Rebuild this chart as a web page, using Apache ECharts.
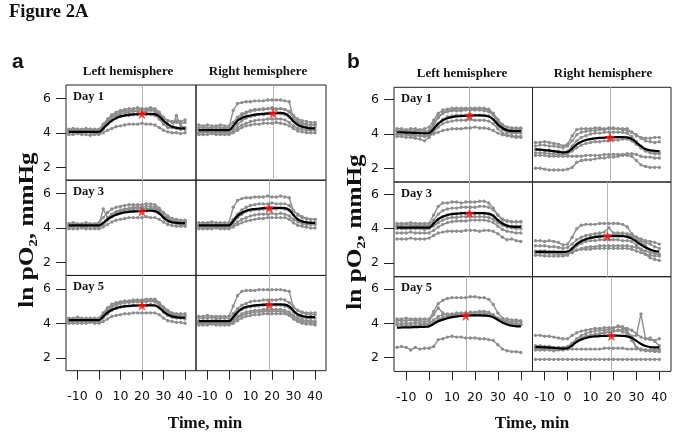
<!DOCTYPE html>
<html><head><meta charset="utf-8">
<script src="https://cdn.jsdelivr.net/npm/echarts@6/dist/echarts.min.js"></script>
<style>html,body{margin:0;padding:0;background:#fff}#c{width:679px;height:440px}</style>
</head><body><div id="c"></div>
<script>
// ---- data ----
const times = [-14,-12,-10,-8,-6,-4,-2,0,2,4,6,8,10,12,14,16,18,20,22,24,26,28,30,32,34,36,38,40];
const xTicks = [-10,0,10,20,30,40];
const yTicks = [2,4,6];
const dayLabels = ['Day 1','Day 3','Day 5'];
const colTitles = ['Left hemisphere','Right hemisphere'];

// panel a, left hemisphere, day 1
const aL1 = [
 [4.2,4.25,4.2,4.2,4.25,4.2,4.2,4.2,4.5,4.8,5.05,5.2,5.3,5.35,5.4,5.4,5.45,5.4,5.4,5.45,5.4,5.2,4.9,4.7,4.6,4.6,4.55,4.6],
 [4.1,4.1,4.15,4.1,4.1,4.1,4.15,4.1,4.3,4.6,4.85,5.0,5.1,5.15,5.2,5.25,5.25,5.2,5.25,5.3,5.25,5.0,4.7,4.45,4.3,4.25,4.2,4.2],
 [4.0,4.05,4.0,4.0,4.05,4.0,3.95,4.0,4.2,4.5,4.7,4.85,4.95,5.0,5.0,5.05,5.05,5.1,5.05,5.05,5.0,4.8,4.5,4.3,4.3,5.0,4.4,4.3],
 [3.9,3.9,3.95,3.9,3.9,3.85,3.9,3.9,4.0,4.15,4.25,4.35,4.4,4.45,4.5,4.5,4.5,4.55,4.5,4.5,4.45,4.3,4.15,4.05,4.0,4.0,3.95,4.0],
 [4.15,4.15,4.2,4.15,4.15,4.2,4.15,4.15,4.4,4.7,4.95,5.1,5.2,5.25,5.3,5.3,5.3,5.35,5.3,5.35,5.3,5.1,4.85,4.7,4.65,4.7,4.65,4.75]
];
const aL1Mean = [4.05,4.05,4.05,4.05,4.05,4.05,4.05,4.05,4.25,4.5,4.7,4.85,4.95,5.0,5.05,5.07,5.08,5.1,5.1,5.1,5.08,4.95,4.7,4.5,4.35,4.3,4.25,4.25];
const aL1Star = [20, 5.1];

const aR1 = [
 [4.3,4.35,4.3,4.3,4.35,4.3,4.3,4.3,5.3,5.7,5.75,5.8,5.8,5.85,5.85,5.85,5.9,5.9,5.9,5.9,5.85,5.8,4.8,4.6,4.5,4.5,4.45,4.5],
 [4.2,4.2,4.25,4.2,4.2,4.2,4.25,4.2,4.4,4.75,5.0,5.15,5.25,5.3,5.35,5.35,5.4,5.4,5.35,5.4,5.35,5.2,4.9,4.7,4.55,4.5,4.45,4.45],
 [4.1,4.1,4.1,4.15,4.1,4.1,4.1,4.1,4.25,4.5,4.7,4.85,4.95,5.0,5.05,5.05,5.1,5.1,5.1,5.1,5.05,4.9,4.7,4.5,4.4,4.35,4.3,4.3],
 [4.0,4.0,4.05,4.0,4.0,4.0,4.0,4.0,4.1,4.3,4.45,4.55,4.65,4.7,4.75,4.75,4.8,4.8,4.8,4.8,4.75,4.6,4.4,4.25,4.2,4.15,4.15,4.15],
 [3.9,3.9,3.9,3.95,3.9,3.9,3.9,3.9,4.0,4.15,4.3,4.4,4.45,4.5,4.5,4.55,4.55,4.55,4.6,4.55,4.5,4.4,4.25,4.1,4.05,4.0,4.0,4.0],
 [4.45,4.4,4.45,4.4,4.4,4.45,4.4,4.4,4.6,4.9,5.1,5.2,5.3,5.35,5.35,5.4,5.4,5.45,5.4,5.4,5.35,5.25,5.0,4.8,4.7,4.65,4.6,4.6]
];
const aR1Mean = [4.15,4.15,4.15,4.15,4.15,4.15,4.15,4.15,4.4,4.7,4.85,4.95,5.0,5.05,5.08,5.1,5.12,5.14,5.15,5.15,5.12,4.95,4.65,4.45,4.35,4.3,4.25,4.25];
const aR1Star = [20.5, 5.15];

const aL3 = [
 [4.25,4.3,4.25,4.25,4.3,4.25,4.25,4.3,4.6,4.9,5.1,5.2,5.25,5.3,5.35,5.35,5.35,5.35,5.4,5.4,5.35,5.15,4.9,4.7,4.55,4.5,4.45,4.45],
 [4.15,4.15,4.2,4.15,4.15,4.15,4.2,4.2,5.1,4.6,4.75,4.9,5.0,5.05,5.1,5.1,5.15,5.15,5.1,5.15,5.1,4.95,4.7,4.5,4.4,4.35,4.3,4.3],
 [4.05,4.05,4.1,4.05,4.05,4.1,4.05,4.05,4.2,4.45,4.65,4.8,4.9,4.95,5.0,5.0,5.0,5.05,5.0,5.05,5.0,4.85,4.6,4.4,4.3,4.25,4.2,4.2],
 [3.95,3.95,3.95,4.0,3.95,3.95,3.95,3.95,4.05,4.2,4.35,4.45,4.5,4.55,4.6,4.6,4.6,4.6,4.65,4.6,4.6,4.5,4.35,4.2,4.15,4.1,4.1,4.1],
 [4.1,4.1,4.1,4.1,4.15,4.1,4.1,4.1,4.3,4.6,4.8,4.95,5.05,5.1,5.15,5.2,5.2,5.2,5.25,5.25,5.2,5.0,4.75,4.55,4.45,4.4,4.35,4.35]
];
const aL3Mean = [4.15,4.15,4.15,4.15,4.15,4.15,4.15,4.15,4.3,4.5,4.65,4.77,4.85,4.9,4.93,4.95,4.97,4.98,5.0,5.0,4.98,4.85,4.6,4.42,4.33,4.3,4.28,4.28];
const aL3Star = [20, 4.97];

const aR3 = [
 [4.3,4.3,4.3,4.35,4.3,4.3,4.3,4.3,5.2,5.6,5.7,5.75,5.75,5.8,5.8,5.8,5.85,5.8,5.8,5.85,5.8,5.75,5.0,4.8,4.65,4.55,4.5,4.5],
 [4.2,4.2,4.25,4.2,4.2,4.2,4.2,4.2,4.5,4.8,5.05,5.2,5.3,5.35,5.4,5.4,5.4,5.45,5.4,5.4,5.4,5.3,5.0,4.75,4.6,4.55,4.5,4.5],
 [4.1,4.1,4.1,4.15,4.1,4.1,4.1,4.1,4.3,4.6,4.8,4.95,5.0,5.05,5.05,5.1,5.1,5.1,5.1,5.15,5.1,5.0,4.75,4.5,4.4,4.35,4.3,4.3],
 [4.05,4.05,4.0,4.05,4.05,4.0,4.05,4.05,4.15,4.35,4.5,4.6,4.7,4.75,4.8,4.8,4.8,4.85,4.8,4.85,4.8,4.7,4.5,4.35,4.25,4.2,4.2,4.2],
 [3.95,3.95,3.95,3.95,4.0,3.95,3.95,3.95,4.05,4.2,4.3,4.4,4.45,4.5,4.55,4.55,4.6,4.6,4.6,4.6,4.6,4.5,4.3,4.15,4.1,4.05,4.0,4.0]
];
const aR3Mean = [4.15,4.15,4.15,4.15,4.15,4.15,4.15,4.15,4.4,4.7,4.88,5.0,5.07,5.1,5.13,5.15,5.16,5.17,5.17,5.17,5.15,5.05,4.75,4.5,4.38,4.32,4.3,4.3];
const aR3Star = [18.7, 5.17];

const aL5 = [
 [4.3,4.3,4.35,4.3,4.3,4.3,4.3,4.3,4.6,4.9,5.1,5.2,5.25,5.3,5.3,5.35,5.35,5.35,5.4,5.4,5.4,5.2,4.95,4.75,4.6,4.55,4.55,4.55],
 [4.2,4.2,4.2,4.25,4.2,4.2,4.2,4.2,4.45,4.75,4.95,5.05,5.15,5.2,5.2,5.25,5.25,5.25,5.25,5.3,5.25,5.1,4.85,4.6,4.5,4.45,4.4,4.4],
 [4.1,4.1,4.1,4.1,4.15,4.1,4.1,4.1,4.3,4.55,4.75,4.85,4.95,5.0,5.0,5.05,5.05,5.05,5.05,5.1,5.05,4.9,4.65,4.45,4.35,4.3,4.3,4.25],
 [4.0,4.0,4.0,4.0,4.0,4.05,4.0,4.0,4.1,4.25,4.4,4.45,4.5,4.55,4.55,4.6,4.6,4.6,4.6,4.6,4.6,4.5,4.3,4.15,4.1,4.05,4.05,4.0],
 [4.25,4.25,4.25,4.25,4.2,4.25,4.25,4.25,4.5,4.8,5.0,5.1,5.2,5.25,5.25,5.3,5.3,5.3,5.3,5.35,5.3,5.15,4.9,4.7,4.55,4.5,4.45,4.4]
];
const aL5Mean = [4.18,4.18,4.18,4.18,4.18,4.18,4.18,4.18,4.4,4.62,4.78,4.88,4.94,4.98,5.0,5.02,5.03,5.04,5.04,5.04,5.03,4.9,4.68,4.5,4.4,4.35,4.32,4.32];
const aL5Star = [20, 5.04];

const aR5 = [
 [4.4,4.4,4.45,4.4,4.4,4.4,4.4,4.4,5.0,5.6,5.85,5.9,5.9,5.9,5.95,5.95,5.95,5.95,5.95,5.95,5.9,5.85,4.9,4.75,4.65,4.6,4.6,4.6],
 [4.3,4.3,4.3,4.35,4.3,4.3,4.3,4.3,4.55,4.85,5.05,5.15,5.25,5.3,5.3,5.35,5.35,5.35,5.35,5.4,5.35,5.2,4.95,4.75,4.6,4.55,4.5,4.5],
 [4.15,4.15,4.15,4.15,4.2,4.15,4.15,4.15,4.35,4.6,4.8,4.9,4.95,5.0,5.0,5.05,5.05,5.05,5.05,5.05,5.0,4.9,4.65,4.45,4.35,4.3,4.3,4.3],
 [4.05,4.05,4.05,4.05,4.05,4.05,4.1,4.05,4.2,4.4,4.55,4.65,4.7,4.75,4.75,4.8,4.8,4.8,4.8,4.8,4.75,4.65,4.45,4.3,4.2,4.15,4.15,4.1],
 [3.9,3.9,3.9,3.95,3.9,3.9,3.9,3.9,4.0,4.15,4.3,4.4,4.45,4.5,4.5,4.55,4.55,4.55,4.55,4.55,4.55,4.45,4.25,4.1,4.0,3.95,3.95,3.9],
 [4.0,4.0,4.0,4.0,4.0,4.0,4.0,4.0,4.1,4.3,4.45,4.55,4.6,4.65,4.65,4.7,4.7,4.7,4.7,4.7,4.65,4.55,4.35,4.2,4.1,4.05,4.05,4.0]
];
const aR5Mean = [4.12,4.12,4.12,4.12,4.12,4.12,4.12,4.12,4.35,4.65,4.85,4.95,5.0,5.04,5.06,5.08,5.09,5.1,5.1,5.1,5.08,4.98,4.72,4.52,4.42,4.38,4.36,4.36];
const aR5Star = [18.7, 5.1];

// panel b
const bL1 = [
 [4.3,4.3,4.25,4.3,4.3,4.25,4.3,4.4,4.8,5.2,5.4,5.45,5.5,5.5,5.5,5.5,5.5,5.5,5.5,5.5,5.45,5.2,4.8,4.5,4.4,4.35,4.35,4.35],
 [4.15,4.15,4.1,4.1,4.15,4.1,4.05,4.1,4.5,4.95,5.2,5.3,5.35,5.35,5.35,5.4,5.4,5.4,5.4,5.35,5.3,5.1,4.7,4.4,4.25,4.2,4.2,4.2],
 [4.0,4.0,4.0,3.95,3.95,3.9,3.85,3.9,4.2,4.6,4.85,5.0,5.05,5.1,5.1,5.1,5.15,5.1,5.1,5.1,5.05,4.85,4.5,4.25,4.1,4.05,4.05,4.05],
 [3.85,3.85,3.8,3.8,3.75,3.7,3.6,3.8,4.1,4.4,4.6,4.7,4.75,4.8,4.8,4.8,4.85,4.8,4.8,4.8,4.75,4.6,4.3,4.05,3.95,3.9,3.85,3.85],
 [3.95,3.95,3.95,3.9,3.9,3.9,3.85,3.9,4.0,4.1,4.2,4.25,4.3,4.3,4.3,4.35,4.35,4.4,4.35,4.35,4.3,4.2,4.05,3.95,3.9,3.85,3.8,3.8],
 [4.2,4.2,4.2,4.15,4.2,4.2,4.15,4.2,4.6,5.0,5.25,5.35,5.4,5.45,5.45,5.45,5.45,5.45,5.5,5.45,5.4,5.2,4.85,4.55,4.4,4.35,4.3,4.3]
];
const bL1Mean = [4.1,4.1,4.08,4.07,4.06,4.05,4.03,4.05,4.3,4.6,4.8,4.92,4.98,5.02,5.04,5.06,5.07,5.08,5.08,5.06,5.02,4.85,4.55,4.35,4.22,4.18,4.17,4.17];
const bL1Star = [17.6, 5.08];

const bR1 = [
 [3.5,3.5,3.55,3.5,3.45,3.4,3.3,3.4,3.9,4.25,4.3,4.3,4.3,4.35,4.35,4.3,4.35,4.35,4.3,4.3,4.3,4.1,3.9,3.8,3.75,3.75,3.8,3.8],
 [3.3,3.35,3.35,3.3,3.3,3.25,3.2,3.3,3.6,3.95,4.1,4.15,4.2,4.2,4.25,4.25,4.3,4.3,4.3,4.25,4.2,4.1,3.95,3.75,3.6,3.55,3.5,3.55],
 [3.1,3.1,3.05,3.05,3.0,3.0,2.95,3.0,3.3,3.6,3.8,3.9,4.0,4.05,4.05,4.1,4.1,4.1,4.1,4.1,4.05,3.85,3.55,3.2,3.0,2.9,2.85,2.85],
 [2.9,2.9,2.9,2.85,2.85,2.8,2.8,2.85,3.0,3.2,3.35,3.45,3.5,3.55,3.55,3.6,3.6,3.65,3.65,3.7,3.7,3.6,3.4,3.2,3.05,3.0,2.95,2.95],
 [2.75,2.75,2.75,2.7,2.7,2.7,2.7,2.7,2.7,2.7,2.7,2.75,2.75,2.75,2.75,2.8,2.8,2.8,2.8,2.8,2.85,2.85,2.8,2.7,2.65,2.65,2.6,2.6],
 [2.0,2.0,1.95,1.9,1.9,1.9,1.9,1.95,2.05,2.35,2.45,2.5,2.5,2.55,2.6,2.6,2.65,2.65,2.7,2.75,2.75,2.7,2.45,2.2,2.1,2.05,2.05,2.05]
];
const bR1Mean = [3.1,3.08,3.06,3.03,3.0,2.96,2.92,2.95,3.15,3.4,3.55,3.65,3.7,3.74,3.77,3.79,3.8,3.81,3.81,3.81,3.8,3.7,3.5,3.3,3.12,3.05,3.02,3.0];
const bR1Star = [18.5, 3.81];

const bL3 = [
 [4.3,4.3,4.3,4.35,4.3,4.3,4.3,4.3,4.8,5.3,5.5,5.5,5.55,5.55,5.5,5.55,5.55,5.55,5.6,5.6,5.5,5.2,4.8,4.5,4.45,4.4,4.4,4.4],
 [4.2,4.2,4.25,4.2,4.2,4.2,4.2,4.2,4.5,4.85,5.05,5.15,5.2,5.2,5.25,5.25,5.25,5.25,5.3,5.3,5.25,5.1,4.8,4.55,4.45,4.4,4.4,4.4],
 [4.1,4.1,4.1,4.1,4.15,4.1,4.1,4.1,4.3,4.55,4.7,4.8,4.85,4.85,4.9,4.9,4.9,4.9,4.9,4.9,4.85,4.75,4.5,4.3,4.2,4.15,4.15,4.15],
 [4.0,4.0,4.0,4.0,4.0,4.0,3.95,4.0,4.15,4.35,4.5,4.6,4.65,4.65,4.7,4.7,4.7,4.7,4.7,4.7,4.65,4.55,4.35,4.2,4.1,4.05,4.0,4.0],
 [3.75,3.75,3.75,3.8,3.75,3.75,3.75,3.75,3.9,4.1,4.25,4.35,4.4,4.45,4.45,4.45,4.5,4.5,4.5,4.5,4.45,4.35,4.15,3.95,3.85,3.8,3.75,3.75],
 [3.4,3.4,3.4,3.45,3.4,3.4,3.4,3.45,3.6,3.75,3.8,3.85,3.85,3.85,3.85,3.9,3.9,3.9,3.85,3.9,3.9,3.85,3.7,3.5,3.35,3.4,3.3,3.25]
];
const bL3Mean = [4.06,4.06,4.06,4.06,4.06,4.06,4.06,4.06,4.3,4.55,4.7,4.8,4.85,4.88,4.9,4.91,4.91,4.91,4.91,4.9,4.88,4.75,4.5,4.3,4.17,4.12,4.1,4.1];
const bL3Star = [17.7, 4.91];

const bR3 = [
 [3.3,3.3,3.25,3.3,3.25,3.2,3.05,3.1,3.5,4.0,4.2,4.25,4.25,4.25,4.3,4.3,4.3,4.3,4.3,4.25,4.1,3.7,3.5,3.3,3.2,3.1,2.95,2.85],
 [3.0,3.0,3.0,2.95,2.95,2.9,2.85,2.9,3.1,3.35,3.5,3.6,3.65,3.7,3.75,3.8,4.05,3.75,3.75,3.75,3.7,3.65,3.5,3.4,3.3,3.25,3.2,3.1],
 [2.7,2.7,2.7,2.65,2.65,2.6,2.6,2.65,2.85,3.1,3.3,3.4,3.5,3.55,3.6,3.6,3.6,3.65,3.65,3.6,3.6,3.55,3.4,3.2,3.0,2.75,2.6,2.45],
 [2.6,2.6,2.55,2.55,2.55,2.5,2.5,2.55,2.6,2.75,2.85,2.9,2.95,2.95,3.0,3.0,3.0,3.0,3.0,3.0,3.0,2.95,2.9,2.8,2.7,2.6,2.55,2.5],
 [2.45,2.45,2.4,2.4,2.4,2.4,2.4,2.45,2.7,3.0,3.15,3.25,3.3,3.3,3.35,3.35,3.35,3.35,3.35,3.3,3.3,3.25,3.05,2.8,2.5,2.3,2.2,2.15],
 [2.65,2.65,2.6,2.6,2.6,2.6,2.55,2.6,2.65,2.75,2.8,2.8,2.8,2.85,2.85,2.85,2.85,2.85,2.85,2.85,2.85,2.8,2.7,2.6,2.5,2.45,2.4,2.4]
];
const bR3Mean = [2.65,2.65,2.65,2.65,2.65,2.65,2.65,2.67,2.85,3.1,3.27,3.38,3.46,3.51,3.54,3.56,3.57,3.57,3.57,3.56,3.52,3.42,3.25,3.06,2.9,2.78,2.7,2.66];
const bR3Star = [17.4, 3.57];

const bL5 = [
 [4.25,4.25,4.3,4.25,4.25,4.25,4.25,4.25,4.7,5.15,5.35,5.45,5.5,5.5,5.5,5.5,5.55,5.55,5.5,5.5,5.4,5.1,4.6,4.3,4.25,4.2,4.2,4.15],
 [4.15,4.15,4.15,4.2,4.15,4.15,4.1,4.15,4.5,4.9,4.6,4.45,4.5,4.5,4.55,4.55,4.6,4.6,4.6,4.6,4.55,4.45,4.3,4.2,4.15,4.1,4.1,4.1],
 [4.0,4.0,4.0,4.0,4.05,4.0,4.0,4.0,4.2,4.4,4.5,4.55,4.55,4.6,4.6,4.6,4.65,4.65,4.7,4.7,4.65,4.5,4.3,4.15,4.05,4.0,4.0,3.95],
 [3.9,3.9,3.9,3.9,3.9,3.9,3.95,3.9,4.05,4.25,4.35,4.4,4.45,4.45,4.45,4.5,4.5,4.5,4.5,4.5,4.5,4.4,4.25,4.1,4.0,3.95,3.9,3.9],
 [2.6,2.65,2.6,2.45,2.6,2.5,2.55,2.55,2.65,3.05,3.1,3.2,3.25,3.2,3.2,3.15,3.15,3.15,3.1,3.1,3.05,3.0,2.75,2.5,2.4,2.35,2.35,2.3]
];
const bL5Mean = [3.75,3.76,3.77,3.77,3.78,3.79,3.8,3.82,3.97,4.12,4.22,4.3,4.36,4.4,4.43,4.45,4.46,4.46,4.46,4.45,4.43,4.35,4.2,4.05,3.93,3.86,3.83,3.82];
const bL5Star = [16, 4.46];

const bR5 = [
 [3.3,3.3,3.25,3.25,3.2,3.15,3.1,3.1,3.3,3.45,3.55,3.6,3.65,3.7,3.7,3.75,3.75,3.75,3.8,3.75,3.7,3.6,3.4,3.2,3.1,3.05,3.0,3.1],
 [2.7,2.7,2.65,2.65,2.6,2.6,2.6,2.65,2.85,3.1,3.3,3.4,3.5,3.55,3.6,3.6,3.65,3.7,3.85,3.8,3.55,3.2,2.6,2.45,2.4,2.4,2.45,2.5],
 [2.6,2.6,2.6,2.55,2.55,2.55,2.55,2.6,2.8,3.0,3.15,3.25,3.3,3.35,3.4,3.45,3.5,3.55,3.6,3.5,3.4,3.25,3.3,4.55,3.1,3.15,2.95,2.7],
 [2.5,2.5,2.5,2.5,2.5,2.5,2.5,2.5,2.5,2.5,2.5,2.5,2.5,2.5,2.5,2.55,2.55,2.55,2.55,2.55,2.5,2.5,2.5,2.5,2.45,2.45,2.45,2.45],
 [1.9,1.9,1.9,1.9,1.9,1.9,1.9,1.9,1.9,1.9,1.9,1.9,1.9,1.9,1.9,1.9,1.9,1.9,1.9,1.9,1.9,1.9,1.9,1.9,1.9,1.9,1.9,1.9],
 [2.45,2.45,2.45,2.45,2.4,2.45,2.45,2.5,2.7,2.95,3.1,3.2,3.3,3.35,3.4,3.45,3.5,3.55,3.6,3.65,3.5,3.0,2.6,2.5,2.45,2.4,2.35,2.35]
];
const bR5Mean = [2.62,2.61,2.6,2.59,2.57,2.55,2.53,2.55,2.72,2.92,3.06,3.15,3.21,3.24,3.26,3.27,3.28,3.28,3.28,3.27,3.24,3.15,2.98,2.8,2.68,2.62,2.6,2.6];
const bR5Star = [19.1, 3.28];

// ---- layout ----
const panels = [
  // [lines, mean, star, left, top, width, height, ymin, ymax, isLeftCol, isBottomRow, dayIndex]
  [aL1, aL1Mean, aL1Star, 66, 85, 130, 95.2, 1.25, 6.77, true, false, 0],
  [aR1, aR1Mean, aR1Star, 196, 85, 130, 95.2, 1.25, 6.77, false, false, -1],
  [aL3, aL3Mean, aL3Star, 66, 180.2, 130, 95.2, 1.25, 6.77, true, false, 1],
  [aR3, aR3Mean, aR3Star, 196, 180.2, 130, 95.2, 1.25, 6.77, false, false, -1],
  [aL5, aL5Mean, aL5Star, 66, 275.5, 130, 95.2, 1.25, 6.77, true, true, 2],
  [aR5, aR5Mean, aR5Star, 196, 275.5, 130, 95.2, 1.25, 6.77, false, true, -1],
  [bL1, bL1Mean, bL1Star, 394, 87.3, 138.5, 94.7, 1.2, 6.72, true, false, 0],
  [bR1, bR1Mean, bR1Star, 532.5, 87.3, 138.5, 94.7, 1.2, 6.72, false, false, -1],
  [bL3, bL3Mean, bL3Star, 394, 182, 138.5, 94.7, 1.2, 6.72, true, false, 1],
  [bR3, bR3Mean, bR3Star, 532.5, 182, 138.5, 94.7, 1.2, 6.72, false, false, -1],
  [bL5, bL5Mean, bL5Star, 394, 276.7, 138.5, 94.7, 1.2, 6.72, true, true, 2],
  [bR5, bR5Mean, bR5Star, 532.5, 276.7, 138.5, 94.7, 1.2, 6.72, false, true, -1]
];

const STAR = 'path://M0,-10 L2.35,-3.24 L9.51,-3.09 L3.80,1.24 L5.88,8.09 L0,4 L-5.88,8.09 L-3.80,1.24 L-9.51,-3.09 L-2.35,-3.24 Z';
const grey = '#8e8e8e';
const sansFont = '"DejaVu Sans", "Liberation Sans", sans-serif';
const serifFont = '"Liberation Serif", "DejaVu Serif", serif';

const grid = [], xAxis = [], yAxis = [], series = [], graphic = [];
panels.forEach((p, i) => {
  const [lines, mean, star, left, top, w, h, ymin, ymax, leftCol, bottomRow, dayIdx] = p;
  grid.push({left, top, width: w, height: h, show: true, borderColor: '#222', borderWidth: 1, backgroundColor: 'transparent'});
  xAxis.push({
    type: 'value', gridIndex: i, min: -15.3, max: 45.1, position: 'bottom',
    axisLine: {show: false, onZero: false}, splitLine: {show: false},
    axisTick: {show: bottomRow, length: 9, lineStyle: {color: '#222'}, customValues: xTicks},
    axisLabel: {show: bottomRow, margin: 20, fontSize: 12.5, color: '#111', fontFamily: sansFont, customValues: xTicks}
  });
  yAxis.push({
    type: 'value', gridIndex: i, min: ymin, max: ymax, position: 'left',
    axisLine: {show: false, onZero: false}, splitLine: {show: false},
    axisTick: {show: leftCol, length: 10, lineStyle: {color: '#222'}, customValues: yTicks},
    axisLabel: {show: leftCol, margin: 15, fontSize: 12.5, color: '#111', fontFamily: sansFont, customValues: yTicks}
  });
  lines.forEach(vals => {
    series.push({
      type: 'line', xAxisIndex: i, yAxisIndex: i, silent: true, animation: false,
      data: vals.map((v, k) => [times[k], v]),
      symbol: 'circle', symbolSize: 3.4, showSymbol: true,
      lineStyle: {color: grey, width: 1.4}, itemStyle: {color: grey}, z: 2
    });
  });
  series.push({
    type: 'line', xAxisIndex: i, yAxisIndex: i, silent: true, animation: false,
    data: mean.map((v, k) => [times[k], v]), smooth: 0.4, showSymbol: false,
    lineStyle: {color: '#000', width: 2.2}, z: 3
  });
  series.push({
    type: 'scatter', xAxisIndex: i, yAxisIndex: i, silent: true, animation: false,
    data: [star], symbol: STAR, symbolSize: 11, itemStyle: {color: '#ff1a1a'}, z: 5,
    markLine: {silent: true, symbol: 'none', label: {show: false}, animation: false,
      lineStyle: {color: '#b4b4b4', width: 1, type: 'solid'}, data: [{xAxis: star[0]}], z: 1}
  });
  if (dayIdx >= 0) {
    graphic.push({type: 'text', left: left + 7, top: top + 5, silent: true,
      style: {text: dayLabels[dayIdx], font: 'bold 12.5px ' + serifFont, fill: '#111'}});
  }
});

// titles
graphic.push({type: 'text', left: 9, top: 3, style: {text: 'Figure 2A', font: 'bold 18.5px ' + serifFont, fill: '#111'}});
graphic.push({type: 'text', left: 12, top: 52, style: {text: 'a', font: 'bold 21px "Liberation Sans", Arial, sans-serif', fill: '#111'}});
graphic.push({type: 'text', left: 347, top: 52, style: {text: 'b', font: 'bold 21px "Liberation Sans", Arial, sans-serif', fill: '#111'}});
[[128, 72], [258, 72], [462, 74], [603, 74]].forEach((c, k) => {
  graphic.push({type: 'text', x: c[0], y: c[1], style: {text: colTitles[k % 2], font: 'bold 13px ' + serifFont, fill: '#111', align: 'center', verticalAlign: 'middle'}});
});
graphic.push({type: 'text', x: 205, y: 424, style: {text: 'Time, min', font: 'bold 17px ' + serifFont, fill: '#111', align: 'center', verticalAlign: 'middle'}});
graphic.push({type: 'text', x: 532, y: 424, style: {text: 'Time, min', font: 'bold 17px ' + serifFont, fill: '#111', align: 'center', verticalAlign: 'middle'}});
graphic.push({type: 'text', x: 28, y: 230, rotation: Math.PI / 2, scaleX: 1.2, style: {text: 'ln pO\u2082, mmHg', font: 'bold 21px ' + serifFont, fill: '#111', align: 'center', verticalAlign: 'middle'}});
graphic.push({type: 'text', x: 356, y: 232, rotation: Math.PI / 2, scaleX: 1.2, style: {text: 'ln pO\u2082, mmHg', font: 'bold 21px ' + serifFont, fill: '#111', align: 'center', verticalAlign: 'middle'}});

const chart = echarts.init(document.getElementById('c'), null, {renderer: 'canvas'});
chart.setOption({animation: false, backgroundColor: '#fff', grid, xAxis, yAxis, series, graphic});
</script>
</body></html>
